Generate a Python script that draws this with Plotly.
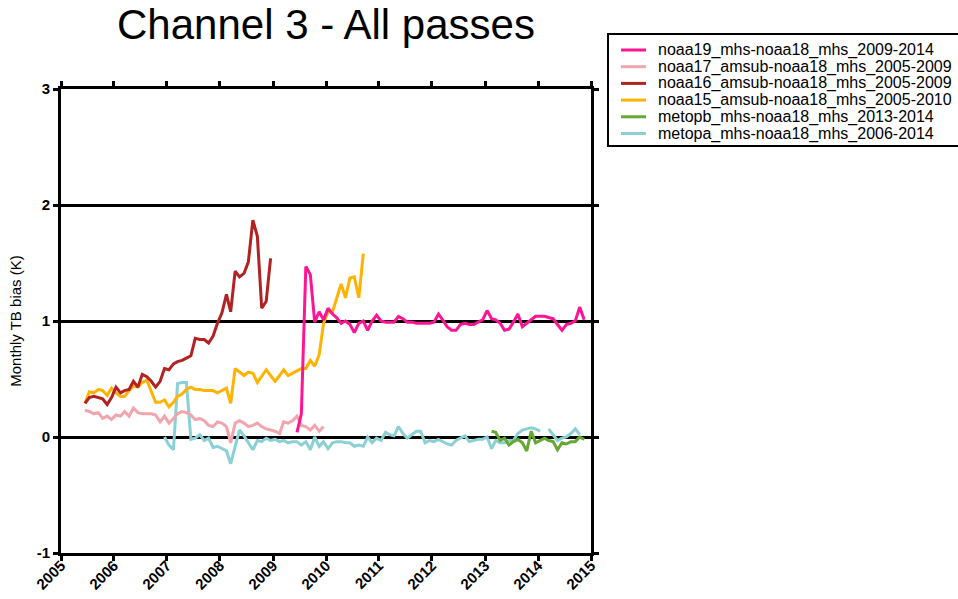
import pandas as pd
import plotly.graph_objects as go

# ---------------- data (monthly means, K) ----------------
names = [
    "noaa19_mhs-noaa18_mhs_2009-2014",
    "noaa17_amsub-noaa18_mhs_2005-2009",
    "noaa16_amsub-noaa18_mhs_2005-2009",
    "noaa15_amsub-noaa18_mhs_2005-2010",
    "metopb_mhs-noaa18_mhs_2013-2014",
    "metopa_mhs-noaa18_mhs_2006-2014",
]
colors = ["#FF1493", "#F2A5AD", "#B22222", "#FFB300", "#66A832", "#8AD0D5"]
starts = ["2009-06", "2005-06", "2005-06", "2005-06", "2013-02", "2006-12"]

noaa19 = [0.04, 0.20, 1.47, 1.40, 0.99, 1.08, 1.01, 1.11, 1.06, 1.03, 0.98, 1.00,
          0.97, 0.90, 0.98, 1.00, 0.92, 1.00, 1.05, 1.00, 0.99, 0.99, 0.99, 1.04,
          1.02, 0.99, 0.99, 0.98, 0.98, 0.98, 0.98, 0.99, 1.06, 1.01, 0.95, 0.92,
          0.92, 0.97, 0.98, 0.97, 0.97, 0.99, 1.01, 1.09, 1.02, 1.01, 0.98, 0.92,
          0.93, 0.99, 1.06, 0.95, 0.98, 1.01, 1.04, 1.04, 1.04, 1.03, 1.02, 0.97,
          0.92, 0.97, 0.98, 1.00, 1.12, 1.01]

noaa17 = [0.23, 0.22, 0.20, 0.21, 0.16, 0.18, 0.15, 0.19, 0.18, 0.22, 0.18, 0.25,
          0.21, 0.20, 0.20, 0.20, 0.19, 0.13, 0.18, 0.12, 0.16, 0.20, 0.22, 0.21,
          0.19, 0.15, 0.16, 0.14, 0.10, 0.09, 0.13, 0.12, 0.09, -0.05, 0.12, 0.14,
          0.12, 0.09, 0.10, 0.12, 0.09, 0.07, 0.06, 0.05, 0.03, 0.13, 0.12, 0.14,
          0.18, 0.10, 0.09, 0.06, 0.10, 0.05, 0.09]

noaa16 = [0.29, 0.34, 0.35, 0.34, 0.33, 0.28, 0.34, 0.43, 0.38, 0.40, 0.41, 0.48,
          0.43, 0.54, 0.52, 0.48, 0.43, 0.48, 0.59, 0.58, 0.63, 0.65, 0.66, 0.68,
          0.70, 0.85, 0.84, 0.84, 0.81, 0.87, 0.98, 1.07, 1.23, 1.08, 1.43, 1.38,
          1.41, 1.51, 1.87, 1.73, 1.11, 1.17, 1.54]

noaa15 = [0.29, 0.39, 0.38, 0.41, 0.40, 0.36, 0.42, 0.38, 0.35, 0.35, 0.40, 0.44,
          0.43, 0.47, 0.49, 0.39, 0.30, 0.30, 0.32, 0.26, 0.30, 0.35, 0.37, 0.41,
          0.43, 0.41, 0.41, 0.40, 0.40, 0.40, 0.38, 0.40, 0.42, 0.29, 0.59, 0.56,
          0.53, 0.56, 0.55, 0.47, 0.52, 0.58, 0.53, 0.48, 0.53, 0.58, 0.53, 0.55,
          0.57, 0.59, 0.59, 0.66, 0.61, 0.71, 0.98, 1.08, 1.08, 1.20, 1.32, 1.20,
          1.37, 1.38, 1.20, 1.58]

metopb = [0.05, 0.04, -0.03, -0.01, -0.07, -0.04, -0.02, -0.05, -0.12, 0.05, -0.05,
          -0.03, -0.01, -0.03, -0.04, -0.11, -0.05, -0.06, -0.04, -0.04, 0.00, -0.02]

metopa = [0.00, -0.07, -0.11, 0.46, 0.47, 0.47, -0.02, -0.01, 0.02, -0.03, -0.01,
          -0.09, -0.08, -0.10, -0.12, -0.23, -0.07, 0.06, 0.01, -0.05, -0.11, -0.03,
          -0.04, -0.01, -0.03, -0.02, -0.04, -0.03, -0.05, -0.04, -0.04, -0.07, -0.04,
          -0.11, 0.00, -0.08, -0.04, -0.10, -0.05, -0.04, -0.04, -0.05, -0.05, -0.08,
          -0.07, -0.08, 0.00, -0.05, -0.01, -0.03, 0.04, 0.02, 0.01, 0.09, 0.03,
          -0.01, 0.02, 0.05, 0.05, -0.05, -0.03, -0.04, -0.02, -0.04, -0.06, -0.07,
          -0.03, -0.01, 0.01, -0.04, -0.03, -0.02, -0.02, 0.00, -0.10, -0.03, -0.05,
          -0.05, -0.03, -0.03, 0.03, 0.06, 0.07, 0.08, 0.07, 0.05, None, 0.07, 0.02,
          -0.03, -0.01, 0.00, 0.03, 0.07, 0.02]

series = [noaa19, noaa17, noaa16, noaa15, metopb, metopa]

year_ticks = [str(y) for y in range(2005, 2016)]
y_ticks = [-1, 0, 1, 2, 3]

# ---------------- figure ----------------
W, H = 958, 599
L, R, T, B = 61, 367, 89, 46
pw, ph = W - L - R, H - T - B

fig = go.Figure()
for name, col, st, vals in reversed(list(zip(names, colors, starts, series))):
    x = pd.date_range(st + "-01", periods=len(vals), freq="MS") + pd.Timedelta(days=14)
    fig.add_trace(go.Scatter(x=x, y=vals, mode="lines", name=name,
                             line=dict(color=col, width=3), showlegend=False,
                             connectgaps=False))

# manual legend (tight spacing like the original)
def px2x(px):
    return (px - L) / pw

def py2y(py):
    return (H - B - py) / ph

fig.add_shape(type="rect", xref="paper", yref="paper",
              x0=px2x(608), x1=px2x(975), y0=py2y(146), y1=py2y(34),
              line=dict(color="black", width=2), fillcolor="white", layer="below")
for i, (name, col) in enumerate(zip(names, colors)):
    yy = 50 + 16.7 * i
    fig.add_shape(type="line", xref="paper", yref="paper",
                  x0=px2x(621), x1=px2x(646), y0=py2y(yy), y1=py2y(yy),
                  line=dict(color=col, width=3))
    fig.add_annotation(text=name, xref="paper", yref="paper", x=px2x(656), y=py2y(yy),
                       xanchor="left", yanchor="middle", showarrow=False,
                       font=dict(family="Liberation Sans", size=16, color="black"))

fig.update_layout(
    width=W, height=H,
    margin=dict(l=L, r=R, t=T, b=B),
    paper_bgcolor="white", plot_bgcolor="white",
    title=dict(text="Channel 3 - All passes", x=px2x(326), xref="paper", xanchor="center",
               y=1 - 24 / H, yanchor="middle",
               font=dict(family="Liberation Sans", size=42, color="black")),
    showlegend=False,
)
fig.update_xaxes(
    type="date", range=["2005-01-01", "2015-01-01"], automargin=False,
    tickvals=[y + "-01-01" for y in year_ticks], ticktext=year_ticks,
    tickangle=-45, ticks="outside", ticklen=5, tickwidth=2.5, tickcolor="black",
    ticklabelstandoff=-10,
    showline=True, linewidth=3, linecolor="black", mirror="ticks",
    showgrid=False, zeroline=False,
    tickfont=dict(family="Liberation Sans", size=15, color="black", weight="bold"),
)
fig.update_yaxes(
    range=[-1, 3], tickvals=y_ticks, ticktext=[str(v) for v in y_ticks], automargin=False,
    ticks="outside", ticklen=5, tickwidth=2.5, tickcolor="black",
    showline=True, linewidth=3, linecolor="black", mirror="ticks",
    showgrid=True, gridcolor="black", gridwidth=2.5,
    zeroline=True, zerolinecolor="black", zerolinewidth=2.5,
    tickfont=dict(family="Liberation Sans", size=15, color="black", weight="bold"),
    title=dict(text="Monthly TB bias (K)", standoff=12,
               font=dict(family="Liberation Sans", size=15, color="black")),
)

fig.write_html("out.html")
